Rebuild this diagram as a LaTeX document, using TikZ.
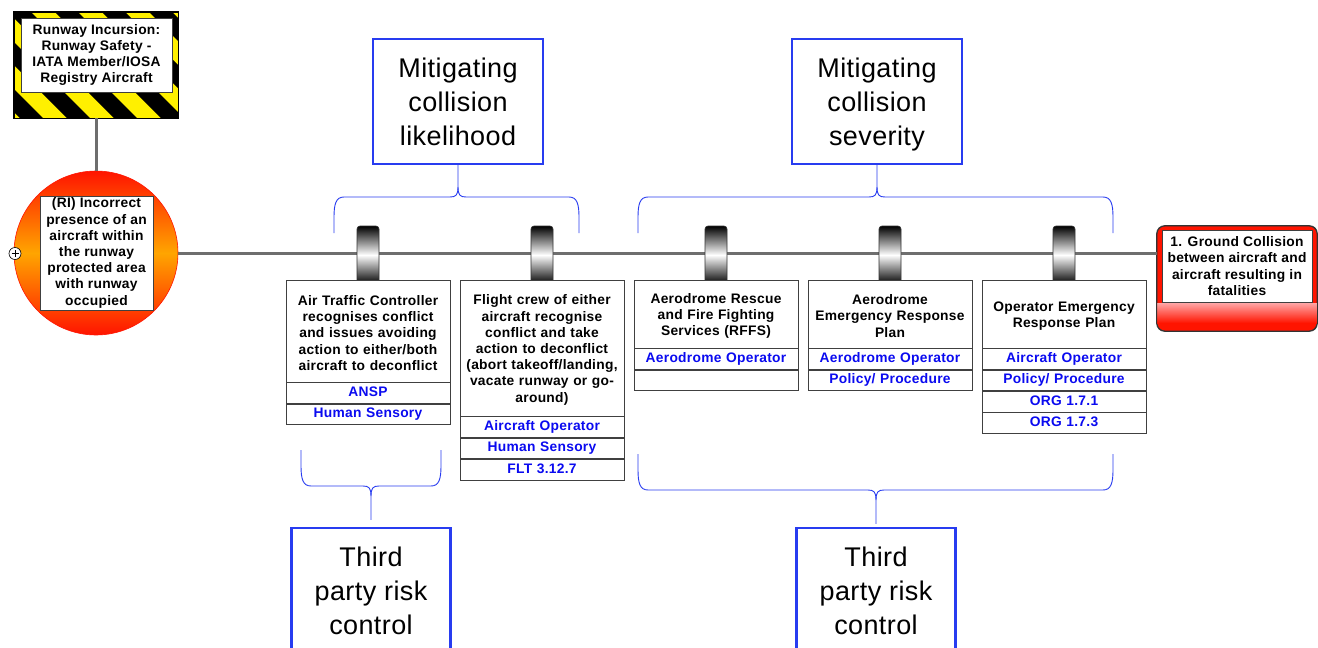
\documentclass[tikz,border=0pt]{standalone}
\usepackage{fontspec}
\setmainfont{Liberation Sans}
\newfontfamily\boxfont[LetterSpace=2]{Liberation Sans}
\newfontfamily\notefont[LetterSpace=1.5]{Liberation Sans}

\definecolor{ctlblue}{RGB}{10,10,240}
\definecolor{frameblue}{RGB}{40,60,240}
\definecolor{linegray}{RGB}{110,110,110}
\definecolor{hazyellow}{RGB}{255,240,0}
\definecolor{eventred}{RGB}{255,20,0}
\definecolor{eventorange}{RGB}{255,165,0}

% curly bracket: x1, x2, x of cusp, y of ends, y of bar, direction (+1 down / -1 up), tip
\newcommand\drawcurly[7]{%
  \draw[brace] (#1,#4) -- (#1,{#5-(#6)*20}) .. controls (#1,{#5-(#6)*7}) and ({#1+2},#5) .. ({#1+10},#5)
    -- ({#3-8},#5) .. controls ({#3-2},#5) and (#3,{#5+(#6)*2}) .. (#3,{#5+(#6)*10}) -- (#7);
  \draw[brace] (#2,#4) -- (#2,{#5-(#6)*20}) .. controls (#2,{#5-(#6)*7}) and ({#2-2},#5) .. ({#2-10},#5)
    -- ({#3+8},#5) .. controls ({#3+2},#5) and (#3,{#5+(#6)*2}) .. (#3,{#5+(#6)*10});
}

\tikzset{
  txt/.style={font=\boxfont\bfseries\fontsize{13.8}{16.2}\selectfont, align=center, inner sep=0pt},
  whitebox/.style={txt, draw=black!75, fill=white, line width=0.8pt},
  bbox/.style={whitebox, minimum width=164pt, text width=162pt,
    execute at begin node=\rule{0pt}{14pt}},
  brow/.style={bbox, minimum height=20.5pt, text height=9.5pt, text depth=2.5pt, text=ctlblue, anchor=north},
  note/.style={draw=frameblue, line width=2.4pt, fill=white, align=center, inner sep=0pt, text depth=0pt,
    font=\notefont\fontsize{27}{33.8}\selectfont},
  brace/.style={draw=frameblue, line width=0.9pt},
  barrier/.style={rectangle, rounded corners=3pt, draw=black!80, line width=0.6pt,
    top color=black, bottom color=black, middle color=white,
    minimum width=22pt, minimum height=58pt, inner sep=0pt},
  mainline/.style={draw=linegray, line width=3pt},
}

\begin{document}
\begin{tikzpicture}[x=1pt,y=-1pt]
\useasboundingbox (0,0) rectangle (1318,648);
\fill[white] (0,0) rectangle (1318,648);
\clip (0,0) rectangle (1318,648);

% hazard sign
\node[draw=black, line width=0.8pt, minimum width=164pt, minimum height=106pt, inner sep=0pt, fill=hazyellow] (hazard) at (96,65) {};
\begin{scope}
  \clip (hazard.south west) rectangle (hazard.north east);
  \foreach \k in {-3,...,4}
    \fill[black] ({8+\k*47},12) -- ++(23,0) -- ++(106,106) -- ++(-23,0) -- cycle;
\end{scope}
\draw[black, line width=0.8pt] (hazard.south west) rectangle (hazard.north east);
\node[whitebox, minimum width=151pt, minimum height=74pt] (hazardtxt) at (96.5,55)
  {Runway Incursion:\\Runway Safety -\\IATA Member/IOSA\\Registry Aircraft};

% top event
\node[circle, minimum size=164pt, inner sep=0pt, draw=eventred, line width=0.6pt,
  top color=eventred, bottom color=eventred, middle color=eventorange] (cause) at (96,253) {};
\node[whitebox, minimum width=113pt, minimum height=114pt] (causetxt) at (96.5,253)
  {(RI) Incorrect\\presence of an\\aircraft within\\the runway\\protected area\\with runway\\occupied};
\draw[linegray, line width=3pt] (hazard.south) -- (cause.north);
\node[circle, draw=black, fill=white, line width=0.6pt, minimum size=12pt, inner sep=0pt] (expand) at (15,253.5) {};
\draw[line width=0.7pt] ([xshift=-3.5pt]expand.center) -- ([xshift=3.5pt]expand.center)
  ([yshift=-3.5pt]expand.center) -- ([yshift=3.5pt]expand.center);

% consequence
\node[draw=black!80, line width=0.8pt, rounded corners=8pt, fill=eventred, minimum width=160pt,
  minimum height=105pt, inner sep=0pt] (conseq) at (1237,278.5) {};
\begin{scope}
  \clip[rounded corners=8pt] (conseq.south west) rectangle (conseq.north east);
  \shade[top color=red!35!white, bottom color=eventred] (1150,303) rectangle (1320,323);
\end{scope}
\draw[black!80, line width=0.8pt, rounded corners=8pt] (conseq.south west) rectangle (conseq.north east);
\node[whitebox, minimum width=150pt, minimum height=72pt] (conseqtxt) at (1237,266)
  {1. Ground Collision\\between aircraft and\\aircraft resulting in\\fatalities};

% event line
\draw[mainline] (cause.east) -- (cause.east -| conseq.west);

% barriers
\node[barrier] (k1) at (368,255) {};
\node[barrier] (k2) at (542,255) {};
\node[barrier] (k3) at (716,255) {};
\node[barrier] (k4) at (890,255) {};
\node[barrier] (k5) at (1064,255) {};

\node[bbox, minimum height=102pt] (b1) at (368,331)
  {Air Traffic Controller\\recognises conflict\\and issues avoiding\\action to either/both\\aircraft to deconflict};
\node[brow] (b1a) at (b1.south) {ANSP};
\node[brow] (b1b) at (b1a.south) {Human Sensory};

\node[bbox, minimum height=136pt] (b2) at (542,348)
  {Flight crew of either\\aircraft recognise\\conflict and take\\action to deconflict\\(abort takeoff/landing,\\vacate runway or go-\\around)};
\node[brow] (b2a) at (b2.south) {Aircraft Operator};
\node[brow] (b2b) at (b2a.south) {Human Sensory};
\node[brow] (b2c) at (b2b.south) {FLT 3.12.7};

\node[bbox, minimum height=68pt] (b3) at (716,314)
  {Aerodrome Rescue\\and Fire Fighting\\Services (RFFS)};
\node[brow] (b3a) at (b3.south) {Aerodrome Operator};
\node[brow] (b3b) at (b3a.south) {};

\node[bbox, minimum height=68pt] (b4) at (890,314)
  {Aerodrome\\Emergency Response\\Plan};
\node[brow] (b4a) at (b4.south) {Aerodrome Operator};
\node[brow] (b4b) at (b4a.south) {Policy/ Procedure};

\node[bbox, minimum height=68pt] (b5) at (1064,314)
  {Operator Emergency\\Response Plan};
\node[brow] (b5a) at (b5.south) {Aircraft Operator};
\node[brow] (b5b) at (b5a.south) {Policy/ Procedure};
\node[brow] (b5c) at (b5b.south) {ORG 1.7.1};
\node[brow] (b5d) at (b5c.south) {ORG 1.7.3};

% grouping notes
\node[note, minimum width=170pt, minimum height=125pt] (lik) at (458,101.5) {Mitigating\\collision\\likelihood};
\node[note, minimum width=170pt, minimum height=125pt] (sev) at (877,101.5) {Mitigating\\collision\\severity};
\node[note, minimum width=159pt, minimum height=126pt] (tp1) at (371,591) {Third\\party risk\\control};
\node[note, minimum width=159pt, minimum height=126pt] (tp2) at (876,591) {Third\\party risk\\control};

\drawcurly{334}{579}{458}{233}{197}{-1}{lik.south}
\drawcurly{638}{1113}{877}{233}{197}{-1}{sev.south}
\drawcurly{301}{441}{371}{450}{486}{1}{[yshift=7pt]tp1.north}
\drawcurly{638}{1113}{876}{454}{490}{1}{[yshift=3pt]tp2.north}
\end{tikzpicture}
\end{document}
